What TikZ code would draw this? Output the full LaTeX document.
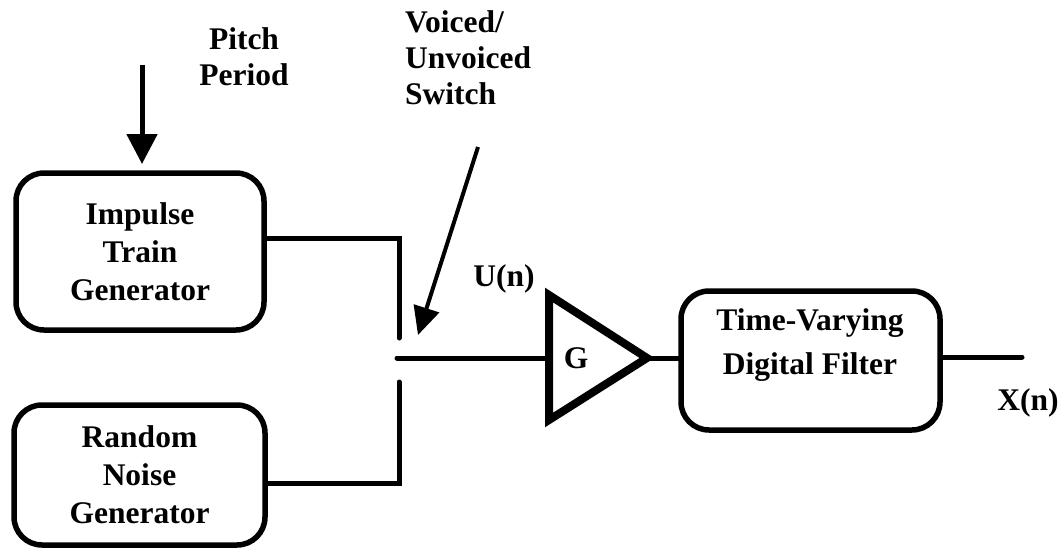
\documentclass[tikz,border=0pt]{standalone}
\usepackage{fontspec}
\setmainfont{Liberation Serif}
\usetikzlibrary{arrows.meta}
\tikzset{
  block/.style={draw, line width=5.5pt, rounded corners=28pt, align=center,
    font=\bfseries\fontsize{31.5}{38}\selectfont, inner sep=0pt},
  lbl/.style={font=\bfseries\fontsize{31.5}{36}\selectfont, inner sep=0pt},
  wire/.style={line width=5pt, line cap=round, line join=miter},
  bigarrow/.style={line width=5pt, -{Triangle[width=30pt,length=30pt]}},
  thinarrow/.style={line width=4pt, -{Triangle[width=26pt,length=28pt]}},
}
\begin{document}
\begin{tikzpicture}[x=1pt,y=-1pt]
\useasboundingbox (0,0) rectangle (1058,552);

% source blocks
\node[block, minimum width=248pt, minimum height=157pt] (imp) at (140,251.5)
  {Impulse\\Train\\Generator};
\node[block, minimum width=251pt, minimum height=140pt] (noise) at (139.5,475)
  {Random\\Noise\\Generator};

% filter block, text sits above its centre
\node[block, minimum width=259pt, minimum height=139pt] (filt) at (810.5,360.5) {};
\node[lbl, align=center, font=\bfseries\fontsize{31.5}{44}\selectfont] (filttxt) at (810,345)
  {Time-Varying\\Digital Filter};

% gain stage
\coordinate (gtop) at (549,295);
\coordinate (gbot) at (549,420);
\coordinate (gtip) at (647,358);
\draw[line width=8pt, line join=miter] (gtop) -- (gtip) -- (gbot) -- cycle;
\node[lbl] (g) at (576,358) {G};

% switch contacts
\coordinate (swtop) at (399,338);
\coordinate (swbot) at (399,382);
\coordinate (swout) at (397,358);
\coordinate (outend) at (1022,357);

\draw[wire] ([yshift=13.5pt]imp.east) -| (swtop);
\draw[wire] ([yshift=-8pt]noise.east) -| (swbot);
\draw[wire] (swout) -- (gtop |- swout);
\draw[wire] (gtip) -- (filt.west |- gtip);
\draw[wire] (filt.east |- outend) -- (outend);

% control inputs
\coordinate (pitchsrc) at (142,65);
\draw[bigarrow] (pitchsrc) -- (142,164);
\coordinate (vuvsrc) at (478,147);
\coordinate (vuvtip) at (418,335);
\draw[thinarrow] (vuvsrc) -- (vuvtip);

% labels
\node[lbl, align=center] (pitch) at (244,57) {Pitch\\Period};
\node[lbl, align=left, anchor=west] (vuv) at (405,58) {Voiced/\\Unvoiced\\Switch};
\node[lbl] (un) at (504,279) {U(n)};
\node[lbl] (xn) at (1028,403) {X(n)};
\end{tikzpicture}
\end{document}
